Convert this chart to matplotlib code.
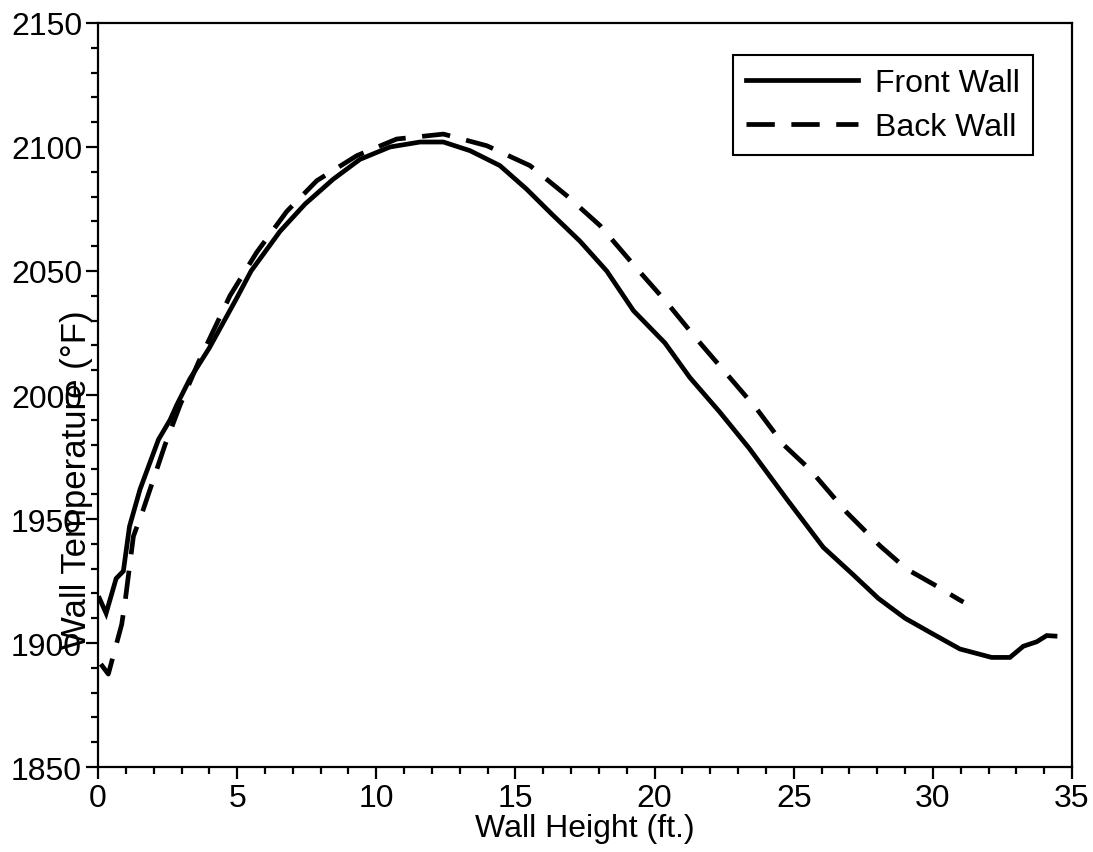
import matplotlib
matplotlib.use("Agg")
import matplotlib.pyplot as plt
from matplotlib.ticker import MultipleLocator

plt.rcParams['font.family'] = ['Liberation Sans', 'DejaVu Sans']

front_x = [0.05, 0.29, 0.65, 0.91, 1.13, 1.51, 2.17, 2.59, 2.83, 3.3, 4.0, 4.98, 5.5,
           6.54, 7.44, 8.45, 9.41, 10.49, 11.57, 12.41, 13.37, 14.44, 15.4, 16.3,
           17.32, 18.28, 19.24, 20.37, 21.27, 22.35, 23.4, 24.75, 26.06, 27.14,
           28.04, 29.0, 30.01, 30.97, 32.11, 32.77, 33.25, 33.73, 34.09, 34.39]
front_y = [1918, 1912, 1926, 1929, 1947, 1962, 1982, 1990, 1996, 2006.5, 2019, 2039, 2050,
           2066, 2077, 2087, 2095, 2100, 2102, 2102, 2098.5, 2092.5, 2083, 2073,
           2062, 2050, 2034, 2021, 2007, 1993, 1978.5, 1958, 1938.6, 1927.5,
           1918, 1910, 1903.6, 1897.6, 1894.2, 1894.2, 1898.7, 1900.5, 1903, 1902.8]

back_x = [0.1, 0.37, 0.85, 0.97, 1.27, 1.63, 2.11, 2.41, 2.95, 3.6, 4.74, 5.7, 6.78,
          7.86, 9.3, 10.73, 12.41, 13.97, 15.52, 16.84, 18.04, 19.36, 20.43, 21.51,
          22.59, 23.67, 24.63, 25.58, 26.9, 28.1, 29.06, 30.13, 30.91, 31.1]
back_y = [1891.5, 1887.5, 1907.5, 1916.5, 1943, 1954, 1970, 1980, 1996, 2013, 2040, 2057.5, 2074,
          2086.4, 2096.5, 2103.2, 2105.2, 2100.5, 2092.5, 2080.4, 2068.3, 2051, 2037.4, 2022.6,
          2008.5, 1994.4, 1980, 1970, 1952.7, 1939.2, 1929.8, 1923, 1917.7, 1916.5]

x_label = "Wall Height (ft.)"
y_label = "Wall Temperature (°F)"
series_names = ["Front Wall", "Back Wall"]

fig = plt.figure(figsize=(10.93, 8.53), dpi=100)
ax = fig.add_axes([0.0897, 0.0996, 0.8911, 0.8723])

ax.plot(front_x, front_y, color='black', lw=3.4, solid_joinstyle='miter', label=series_names[0])
ax.plot(back_x, back_y, color='black', lw=3.4, dashes=(6, 3.5), dash_capstyle='butt',
        label=series_names[1])

ax.set_xlim(0, 35)
ax.set_ylim(1850, 2150)
ax.xaxis.set_major_locator(MultipleLocator(5))
ax.xaxis.set_minor_locator(MultipleLocator(1))
ax.yaxis.set_major_locator(MultipleLocator(50))
ax.yaxis.set_minor_locator(MultipleLocator(10))
ax.tick_params(which='both', direction='out', top=False, right=False, width=1.6,
               labelsize=23, pad=3)
ax.tick_params(which='major', length=8.5)
ax.tick_params(which='minor', length=5)
for s in ax.spines.values():
    s.set_linewidth(1.6)

ax.set_xlabel(x_label, fontsize=23, labelpad=0)
ax.set_ylabel(y_label, fontsize=25)
ax.yaxis.set_label_coords(-0.005, 0.387)

leg = ax.legend(loc='upper right', bbox_to_anchor=(0.96, 0.957), borderaxespad=0,
                fontsize=23, handlelength=3.5, fancybox=False, framealpha=1,
                edgecolor='black', borderpad=0.4, labelspacing=0.45, handletextpad=0.55)
leg.get_frame().set_linewidth(1.5)

fig.savefig("out.png", dpi=100)
